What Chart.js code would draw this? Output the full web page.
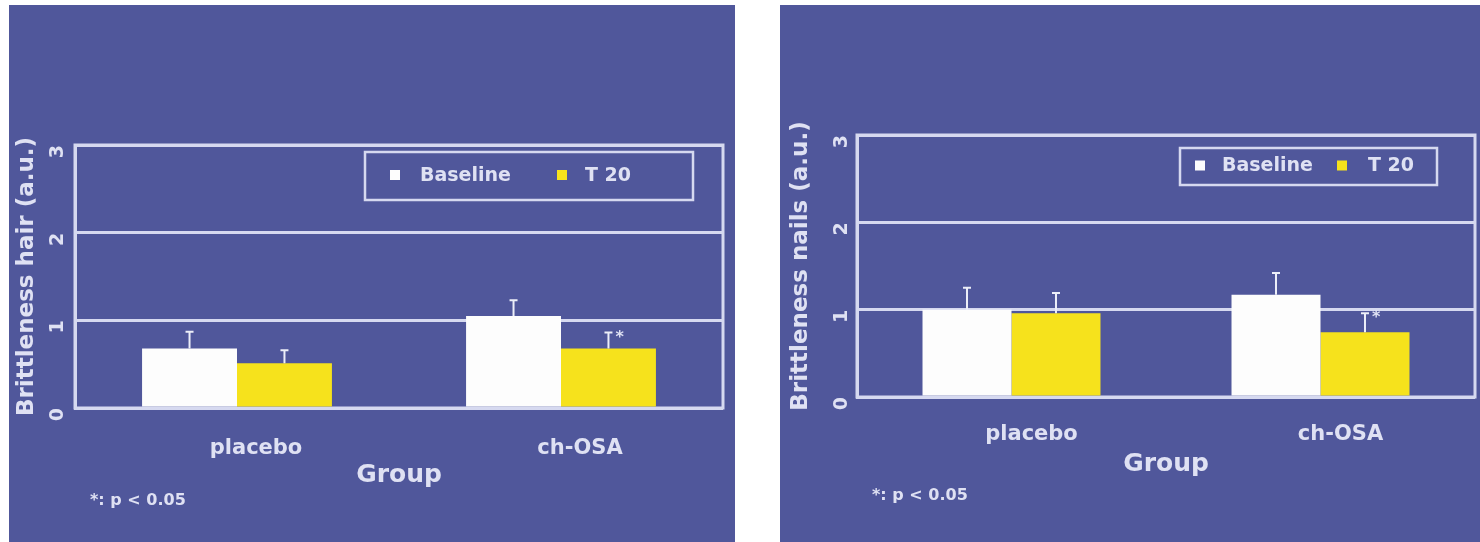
<!DOCTYPE html>
<html>
<head>
<meta charset="utf-8">
<script src="https://cdn.jsdelivr.net/npm/chart.js@4.4.1/dist/chart.umd.min.js"></script>
<style>
  html, body { margin: 0; padding: 0; background: #fff; }
  body { width: 1480px; height: 542px; position: relative; overflow: hidden; font-family: "DejaVu Sans", sans-serif; }
  .panel { position: absolute; background: #50579b; }
  .panel canvas { position: absolute; left: 0; top: 0; }
  .note { position: absolute; color: #dfe1f3; font-weight: bold; font-size: 16px; white-space: nowrap; }
</style>
</head>
<body>
<div class="panel" style="left:9px;top:5px;width:726px;height:537px;">
  <canvas id="hairChart" width="726" height="537"></canvas>
  <div class="note" style="left:81px;top:485px;">*: p &lt; 0.05</div>
</div>
<div class="panel" style="left:780px;top:5px;width:700px;height:537px;">
  <canvas id="nailsChart" width="700" height="537"></canvas>
  <div class="note" style="left:92px;top:480px;">*: p &lt; 0.05</div>
</div>
<script>
// data
const groups = ['placebo', 'ch-OSA'];
const seriesNames = ['Baseline', 'T 20'];
const yTicks = [0, 1, 2, 3];

const hairBaseline = [0.68, 1.05];
const hairBaselineErr = [0.19, 0.18];
const hairT20 = [0.51, 0.68];
const hairT20Err = [0.15, 0.18];

const nailsBaseline = [1.00, 1.17];
const nailsBaselineErr = [0.25, 0.25];
const nailsT20 = [0.96, 0.74];
const nailsT20Err = [0.23, 0.22];

const t20Marks = ['', '*'];

const textColor = '#dfe1f3';
const lineColor = '#d6d9f0';
const fontFamily = '"DejaVu Sans", sans-serif';

// plot frame (right edge etc.)
const frame = {
    id: 'frame',
    beforeDatasetsDraw: function(chart) {
        const a = chart.chartArea, ctx = chart.ctx;
        ctx.save();
        ctx.strokeStyle = lineColor;
        ctx.lineWidth = 3;
        ctx.strokeRect(a.left, a.top, a.right - a.left, a.bottom - a.top);
        ctx.restore();
    }
};

// upward error bars + significance marks
const errorBars = {
    id: 'errorBars',
    afterDatasetsDraw: function(chart) {
        const ctx = chart.ctx, y = chart.scales.y;
        chart.data.datasets.forEach(function(ds, d) {
            chart.getDatasetMeta(d).data.forEach(function(bar, i) {
                const top = y.getPixelForValue(ds.data[i] + ds.errors[i]);
                ctx.save();
                ctx.strokeStyle = '#eceef8';
                ctx.lineWidth = 2;
                ctx.beginPath();
                ctx.moveTo(bar.x, bar.y);
                ctx.lineTo(bar.x, top);
                ctx.moveTo(bar.x - 4, top);
                ctx.lineTo(bar.x + 4, top);
                ctx.stroke();
                if (ds.marks && ds.marks[i]) {
                    ctx.fillStyle = textColor;
                    ctx.font = 'bold 16px ' + fontFamily;
                    ctx.textBaseline = 'middle';
                    ctx.fillText(ds.marks[i], bar.x + 7, top + 5);
                }
                ctx.restore();
            });
        });
    }
};

// boxed legend inside the plot, top right
const boxLegend = {
    id: 'boxLegend',
    afterDraw: function(chart, args, opts) {
        const a = chart.chartArea, ctx = chart.ctx;
        const x0 = a.right - opts.right - opts.width, y0 = a.top + opts.top;
        ctx.save();
        ctx.strokeStyle = lineColor;
        ctx.lineWidth = 2.5;
        ctx.strokeRect(x0, y0, opts.width, opts.height);
        ctx.font = 'bold 19px ' + fontFamily;
        ctx.textBaseline = 'middle';
        const cy = y0 + opts.height / 2;
        chart.data.datasets.forEach(function(ds, d) {
            const pos = opts.items[d];
            ctx.fillStyle = ds.backgroundColor;
            ctx.fillRect(x0 + pos[0] - 5, cy - 6, 10, 10);
            ctx.fillStyle = textColor;
            ctx.fillText(ds.label, x0 + pos[1], cy);
        });
        ctx.restore();
    }
};

function makeChart(id, yTitle, base, baseErr, t20, t20Err, s) {
    const ctx = document.getElementById(id).getContext('2d');
    return new Chart(ctx, {
        type: 'bar',
        data: {
            labels: groups,
            datasets: [{
                label: seriesNames[0],
                data: base,
                errors: baseErr,
                backgroundColor: '#fdfdfd'
            }, {
                label: seriesNames[1],
                data: t20,
                errors: t20Err,
                marks: t20Marks,
                backgroundColor: '#f6e21c'
            }]
        },
        options: {
            responsive: false,
            animation: false,
            events: [],
            categoryPercentage: s.cat,
            barPercentage: 1.0,
            layout: { padding: s.pad },
            plugins: {
                legend: { display: false },
                tooltip: { enabled: false },
                boxLegend: s.legend
            },
            scales: {
                x: {
                    grid: { display: false },
                    border: { display: false },
                    afterFit: function(scale) { scale.height = 90; },
                    ticks: {
                        color: textColor,
                        font: { family: fontFamily, size: 21, weight: 'bold' },
                        padding: s.xPad,
                        labelOffset: s.labelOffset,
                        maxRotation: 0
                    },
                    title: {
                        display: true,
                        text: 'Group',
                        color: textColor,
                        font: { family: fontFamily, size: 25, weight: 'bold' },
                        padding: { top: 0, bottom: 8 }
                    }
                },
                y: {
                    min: 0,
                    max: 3,
                    afterBuildTicks: function(scale) {
                        scale.ticks = yTicks.map(function(v) { return { value: v }; });
                    },
                    afterFit: function(scale) { scale.width = s.yWidth; },
                    grid: { color: lineColor, lineWidth: 3, drawTicks: false },
                    border: { display: true, color: lineColor, width: 3 },
                    ticks: {
                        color: textColor,
                        font: { family: fontFamily, size: 19, weight: 'bold' },
                        padding: s.yPad,
                        minRotation: 90,
                        maxRotation: 90
                    },
                    title: {
                        display: true,
                        text: yTitle,
                        color: textColor,
                        font: { family: fontFamily, size: 23, weight: 'bold' },
                        padding: { top: s.yTitlePad, bottom: 0 }
                    }
                }
            }
        },
        plugins: [frame, errorBars, boxLegend]
    });
}

makeChart('hairChart', 'Brittleness hair (a.u.)', hairBaseline, hairBaselineErr, hairT20, hairT20Err, {
    cat: 0.586,
    pad: { left: 0, top: 140, right: 12, bottom: 44 },
    xPad: 20, labelOffset: 19,
    yWidth: 66, yPad: 17, yTitlePad: 4,
    legend: { right: 30, top: 7, width: 328, height: 48, items: [[30, 55], [197, 220]] }
});

makeChart('nailsChart', 'Brittleness nails (a.u.)', nailsBaseline, nailsBaselineErr, nailsT20, nailsT20Err, {
    cat: 0.576,
    pad: { left: 0, top: 130, right: 5, bottom: 55 },
    xPad: 17, labelOffset: 20,
    yWidth: 77, yPad: 15, yTitlePad: 7,
    legend: { right: 38, top: 13, width: 257, height: 37, items: [[20, 42], [162, 188]] }
});
</script>
</body>
</html>
